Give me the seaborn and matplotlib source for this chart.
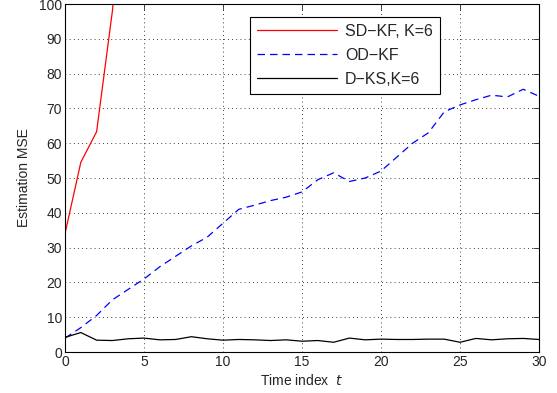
import numpy as np
import pandas as pd
import matplotlib
matplotlib.use('Agg')
import matplotlib.pyplot as plt
import seaborn as sns

# values
t_sd = [0, 1, 2, 3, 4]
sd_kf = [34.0, 54.5, 63.3, 98.0, 150.0]

t = list(range(31))
od_kf = [4.0, 7.0, 10.5, 15.0, 18.0, 21.0, 24.5, 27.5, 30.5, 33.0,
         37.0, 41.0, 42.2, 43.5, 44.5, 46.0, 49.5, 51.5, 49.0, 50.0,
         52.0, 56.0, 60.0, 63.0, 69.0, 71.0, 72.5, 73.8, 73.3, 75.5, 73.5]
dks = [4.2, 5.6, 3.4, 3.3, 3.8, 4.0, 3.5, 3.6, 4.4, 3.8,
       3.4, 3.6, 3.5, 3.3, 3.5, 3.1, 3.3, 2.8, 4.0, 3.5,
       3.7, 3.6, 3.6, 3.7, 3.7, 2.8, 3.9, 3.5, 3.8, 3.9, 3.6]

sns.set_style('white')
plt.rcParams['font.family'] = ['Liberation Sans', 'DejaVu Sans']
plt.rcParams['xtick.direction'] = 'in'
plt.rcParams['ytick.direction'] = 'in'

fig = plt.figure(figsize=(5.57, 3.93), dpi=100)
ax = fig.add_axes([0.1167, 0.1043, 0.851, 0.8855])

sns.lineplot(x=t_sd, y=sd_kf, ax=ax, color='red', lw=0.9, label='SD\u2212KF, K=6')
sns.lineplot(x=t, y=od_kf, ax=ax, color='blue', lw=0.9, label='OD\u2212KF')
ax.lines[-1].set_dashes([6, 4])
sns.lineplot(x=t, y=dks, ax=ax, color='black', lw=0.9, label='D\u2212KS,K=6')

ax.set_xlim(0, 30)
ax.set_ylim(0, 100)
ax.set_xticks(range(0, 31, 5))
ax.set_yticks(range(0, 101, 10))
ax.tick_params(labelsize=10, length=4, width=0.6, top=True, right=True, pad=2)
ax.grid(True, linestyle=(0, (1, 4)), color='black', lw=0.6)
for s in ax.spines.values():
    s.set_color('black')
    s.set_linewidth(0.8)

ax.set_xlabel('Time index  $t$', fontsize=10, labelpad=3)
ax.set_ylabel('Estimation MSE', fontsize=10, labelpad=6)

leg = ax.legend(loc='upper left', bbox_to_anchor=(0.39, 0.963), fontsize=11.5,
                frameon=True, fancybox=False, edgecolor='black', framealpha=1,
                handlelength=5.0, handletextpad=0.5, borderpad=0.45,
                labelspacing=0.55, borderaxespad=0)
leg.get_frame().set_linewidth(0.8)

fig.savefig('out.png', dpi=100)
